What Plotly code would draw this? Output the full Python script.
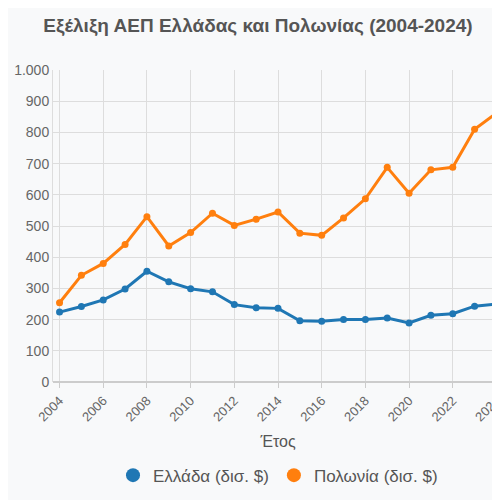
import plotly.graph_objects as go

years = list(range(2004, 2025))
greece = [224, 242, 263, 298, 355, 321, 299, 289, 248, 238, 236, 196, 195, 200, 200, 205, 189, 214, 219, 243, 250]
poland = [254, 342, 380, 441, 530, 436, 479, 541, 502, 522, 545, 477, 470, 526, 587, 688, 605, 680, 688, 810, 862]
names = ["Ελλάδα (δισ. $)", "Πολωνία (δισ. $)"]
colors = ["#1f77b4", "#ff7f0e"]

fig = go.Figure()
for ys, nm, c in zip([greece, poland], names, colors):
    fig.add_trace(go.Scatter(x=years, y=ys, name=nm, mode="lines+markers", showlegend=False,
                             line=dict(color=c, width=3), marker=dict(size=7)))
for nm, c in zip(names, colors):
    fig.add_trace(go.Scatter(x=[None], y=[None], name=nm, mode="markers",
                             marker=dict(color=c, size=14)))
fig.update_layout(
    width=500, height=500, autosize=False,
    margin=dict(l=45, r=5, t=62, b=126),
    paper_bgcolor="#f8f9fa", plot_bgcolor="#f8f9fa",
    font=dict(family="Liberation Sans, Arial, sans-serif", size=13, color="#555"),
    separators=",.",
    title=dict(text="<b>Εξέλιξη ΑΕΠ Ελλάδας και Πολωνίας (2004-2024)</b>", x=0.5, xanchor="center",
               y=0.965, yanchor="middle", font=dict(size=19, color="#555")),
    legend=dict(orientation="h", x=0.5, xanchor="center", y=-0.3, yanchor="middle",
                font=dict(size=17, color="#555")),
)
fig.update_xaxes(range=[2003.7, 2024.3], dtick=2, tick0=2004, tickangle=-45, showgrid=True,
                 gridcolor="#ddd", ticks="outside", ticklen=5, tickcolor="#ccc",
                 showline=False, zeroline=False, title=dict(text="Έτος", standoff=12),
                 tickfont=dict(size=13, color="#666"))
fig.update_yaxes(range=[0, 1000], dtick=100, tickformat=",d", showgrid=True, gridcolor="#ddd",
                 zeroline=True, zerolinecolor="#ccc", showline=True, linecolor="#ddd",
                 tickfont=dict(size=14, color="#666"))
fig.write_html("out.html")
